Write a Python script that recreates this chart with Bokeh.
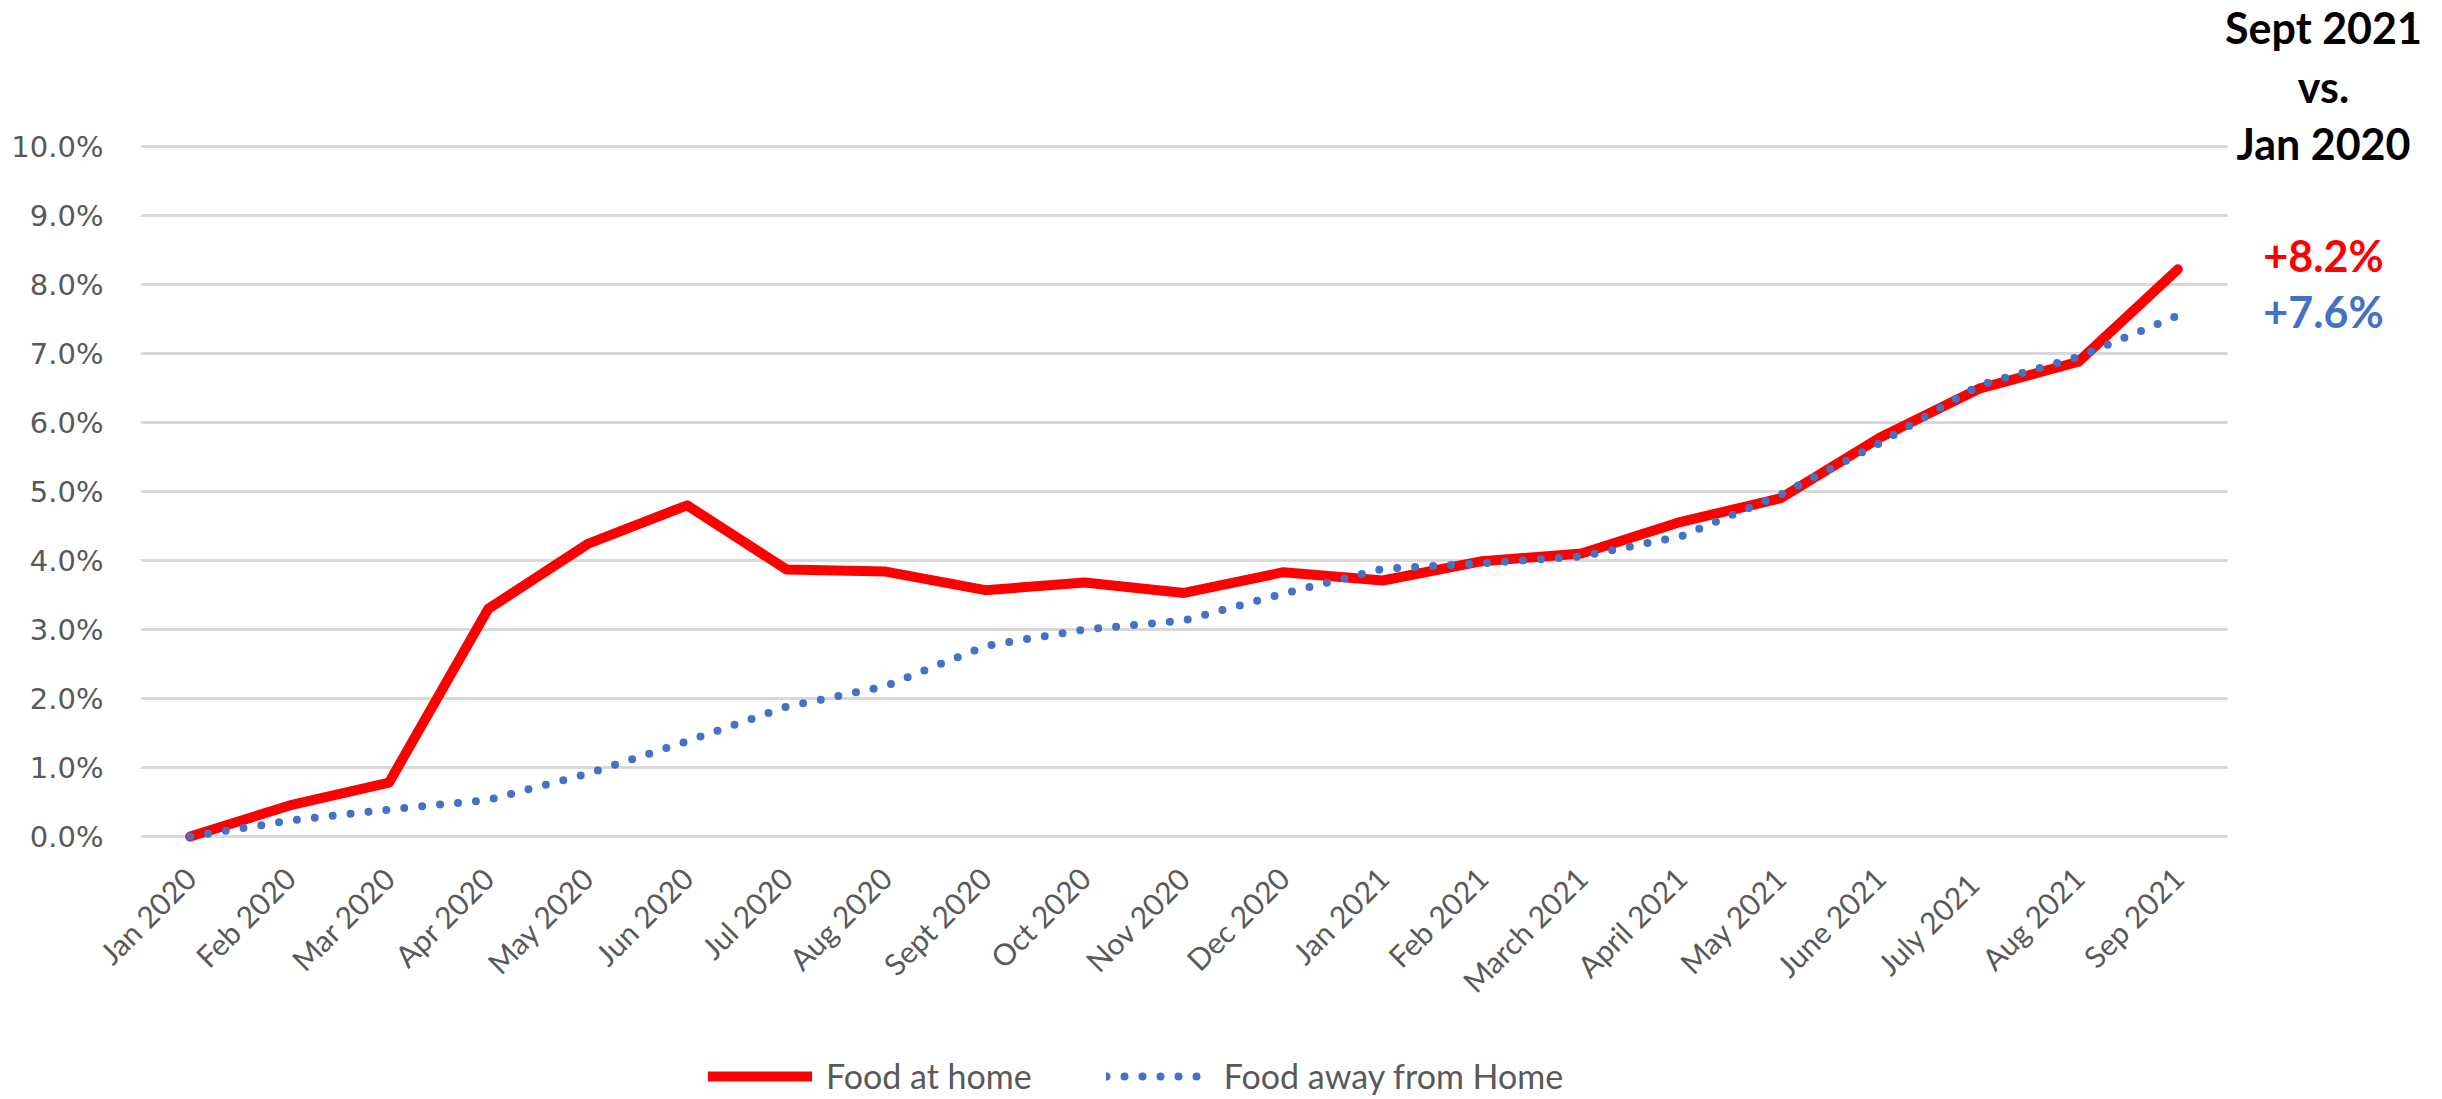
import math
from bokeh.plotting import figure
from bokeh.layouts import row, column
from bokeh.models import Range1d, FixedTicker, Legend, LegendItem, PrintfTickFormatter
from bokeh.core.properties import value
from bokeh.embed import file_html
from bokeh.resources import INLINE

months = ["Jan 2020", "Feb 2020", "Mar 2020", "Apr 2020", "May 2020", "Jun 2020",
          "Jul 2020", "Aug 2020", "Sept 2020", "Oct 2020", "Nov 2020", "Dec 2020",
          "Jan 2021", "Feb 2021", "March 2021", "April 2021", "May 2021", "June 2021",
          "July  2021", "Aug 2021", "Sep 2021"]
food_at_home = [0.0, 0.45, 0.78, 3.30, 4.24, 4.80, 3.87, 3.84, 3.57, 3.68, 3.53, 3.83,
                3.71, 3.99, 4.10, 4.56, 4.90, 5.78, 6.49, 6.88, 8.22]
food_away = [0.0, 0.23, 0.39, 0.53, 0.91, 1.38, 1.88, 2.18, 2.76, 3.00, 3.13, 3.52,
             3.88, 3.96, 4.06, 4.35, 4.95, 5.70, 6.54, 6.95, 7.55]
y_ticks = [0, 1, 2, 3, 4, 5, 6, 7, 8, 9, 10]
header_lines = ["Sept 2021", "vs.", "Jan 2020"]
change_labels = ["+8.2%", "+7.6%"]
series_names = ["Food at home", "Food away from Home"]

RED = "#FF0000"
BLUE = "#4472C4"
GREY = "#595959"
GRID = "#D9D9D9"

n = len(months)
x = list(range(n))

# layout geometry (pixels)
W = 2440
H_MAIN = 1040
FRAME_LEFT = 140
FRAME_BOTTOM = 843
PX_PER_PCT = 69.0
ZERO_PX = 836
CAT_PX = 2087.0 / n

x_end = -0.5 + (W - FRAME_LEFT) / CAT_PX
y_start = -(FRAME_BOTTOM - ZERO_PX) / PX_PER_PCT
y_end = ZERO_PX / PX_PER_PCT

# ---------------- main chart ----------------
p = figure(width=W, height=H_MAIN, output_backend="svg", toolbar_location=None,
           x_range=Range1d(-0.5, x_end), y_range=Range1d(y_start, y_end),
           min_border_left=FRAME_LEFT, min_border_right=0, min_border_top=0,
           min_border_bottom=H_MAIN - FRAME_BOTTOM)
p.outline_line_color = None
p.border_fill_color = "white"
p.grid.visible = False

# horizontal gridlines across the category area only
p.segment(x0=[-0.5] * len(y_ticks), x1=[n - 0.5] * len(y_ticks), y0=y_ticks, y1=y_ticks,
          line_color=GRID, line_width=3)

p.yaxis.ticker = FixedTicker(ticks=y_ticks)
p.yaxis.formatter = PrintfTickFormatter(format="%.1f%%")
p.yaxis.axis_line_color = None
p.yaxis.major_tick_line_color = None
p.yaxis.minor_tick_line_color = None
p.yaxis.major_tick_out = 0
p.yaxis.major_label_standoff = 37
p.yaxis.major_label_text_font = "DejaVu Sans"
p.yaxis.major_label_text_font_size = "29px"
p.yaxis.major_label_text_color = GREY

p.xaxis.ticker = FixedTicker(ticks=x)
p.xaxis.major_label_overrides = {i: m for i, m in enumerate(months)}
p.xaxis.major_label_orientation = math.pi / 4
p.xaxis.axis_line_color = None
p.xaxis.major_tick_line_color = None
p.xaxis.minor_tick_line_color = None
p.xaxis.major_tick_out = 0
p.xaxis.major_label_standoff = 29
p.xaxis.major_label_text_font = "Lato"
p.xaxis.major_label_text_font_size = "30px"
p.xaxis.major_label_text_color = GREY

p.line(x, food_at_home, line_color=RED, line_width=10, line_join="round", line_cap="round")
p.line(x, food_away, line_color=BLUE, line_width=8, line_dash="0 18", line_cap="round")

# right-hand annotation
hx = -0.5 + (2323 - FRAME_LEFT) / CAT_PX
p.text(x=[hx] * 3, y=[11.725, 10.867, 10.041], text=header_lines,
       text_align="center", text_baseline="alphabetic",
       text_font=value("Lato"), text_font_style="bold", text_font_size="43px",
       text_color="black")
p.text(x=[hx] * 2, y=[8.424, 7.612], text=change_labels,
       text_align="center", text_baseline="alphabetic",
       text_font=value("Lato"), text_font_style="bold", text_font_size="43px",
       text_color=[RED, BLUE])

# ---------------- legend strip ----------------
pl = figure(width=W, height=1098 - H_MAIN, output_backend="svg", toolbar_location=None,
            x_range=Range1d(0, 1), y_range=Range1d(0, 1),
            min_border_left=0, min_border_right=0, min_border_top=0, min_border_bottom=0)
pl.outline_line_color = None
pl.axis.visible = False
pl.grid.visible = False
pl.border_fill_color = "white"
# legend key renderers (kept outside the visible range of this strip)
l1 = pl.line([5, 6], [5, 5], line_color=RED, line_width=10, line_cap="round")
l2 = pl.line([5, 6], [5, 5], line_color=BLUE, line_width=8, line_dash="0 18", line_cap="round")
legend = Legend(items=[LegendItem(label=series_names[0], renderers=[l1]),
                       LegendItem(label=series_names[1], renderers=[l2])],
                orientation="horizontal", location=(708, 2),
                border_line_color=None, background_fill_alpha=0,
                label_text_font="Lato", label_text_font_size="34px",
                label_text_color=GREY, glyph_width=104, glyph_height=24,
                spacing=74, padding=0, margin=0, label_standoff=14)
pl.add_layout(legend)

layout = column(row(p), pl, spacing=0)
open("out.html", "w").write(file_html(layout, INLINE))
